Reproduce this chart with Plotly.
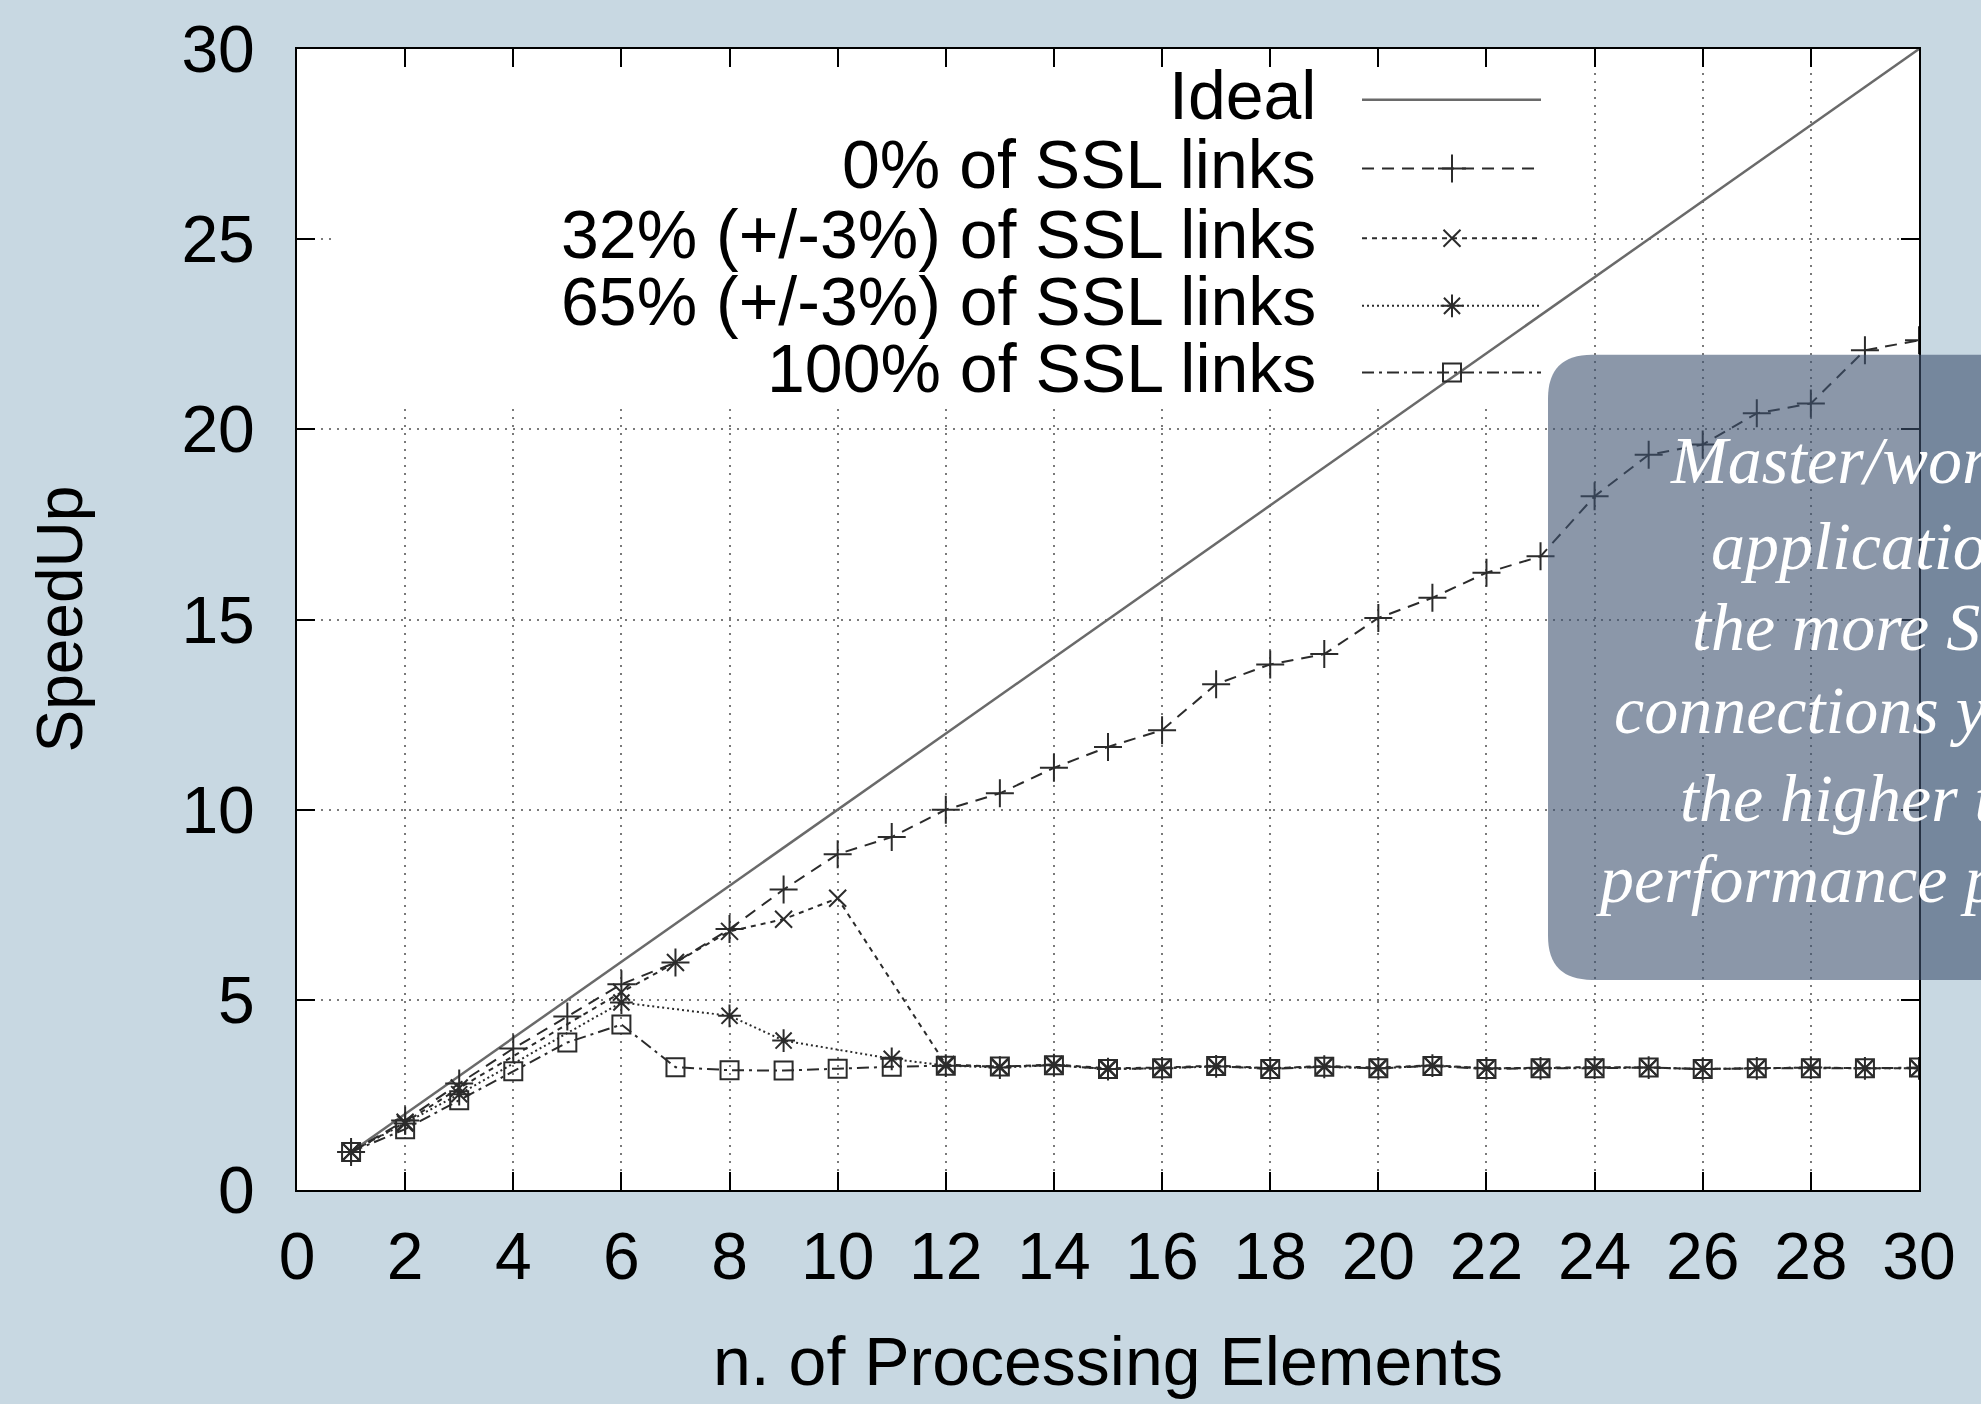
import plotly.graph_objects as go

# ---------------- data ----------------
n_pe = list(range(1, 31))
ideal = [1, 2, 3, 4, 5, 6, 7, 8, 9, 10, 11, 12, 13, 14, 15,
         16, 17, 18, 19, 20, 21, 22, 23, 24, 25, 26, 27, 28, 29, 30]
ssl0 = [1.0, 1.83, 2.8, 3.72, 4.56, 5.41, 5.98, 6.86, 7.9, 8.83,
        9.28, 10.0, 10.43, 11.1, 11.65, 12.09, 13.3, 13.82, 14.09, 15.04,
        15.57, 16.23, 16.66, 18.24, 19.33, 19.6, 20.42, 20.68, 22.08, 22.34]
ssl32_x = [1, 2, 3, 6, 7, 8, 9, 10, 12, 13, 14, 15, 16, 17, 18, 19, 20,
           21, 22, 23, 24, 25, 26, 27, 28, 29, 30]
ssl32 = [1.0, 1.78, 2.68, 5.2, 5.98, 6.8, 7.12, 7.67, 3.3, 3.24,
         3.3, 3.2, 3.22, 3.27, 3.2, 3.26, 3.22, 3.28, 3.2, 3.22,
         3.23, 3.22, 3.18, 3.2, 3.22, 3.2, 3.2]
ssl65_x = [1, 2, 3, 6, 8, 9, 11, 12, 13, 14, 15, 16, 17, 18, 19, 20,
           21, 22, 23, 24, 25, 26, 27, 28, 29, 30]
ssl65 = [1.0, 1.75, 2.52, 4.93, 4.58, 3.93, 3.45, 3.27, 3.22, 3.28,
         3.18, 3.2, 3.25, 3.2, 3.24, 3.2, 3.27, 3.2, 3.2, 3.22,
         3.22, 3.18, 3.2, 3.22, 3.2, 3.2]
ssl100 = [1.0, 1.6, 2.36, 3.12, 3.88, 4.35, 3.23, 3.15, 3.14, 3.19,
          3.24, 3.27, 3.25, 3.28, 3.18, 3.2, 3.26, 3.18, 3.24, 3.2,
          3.26, 3.18, 3.2, 3.2, 3.22, 3.18, 3.2, 3.2, 3.2, 3.22]

legend_labels = ["Ideal", "0% of SSL links", "32% (+/-3%) of SSL links",
                 "65% (+/-3%) of SSL links", "100% of SSL links"]
note_lines = ["Master/worker", "application:", "the more SSL",
              "connections you use,", "the higher the", "performance penalty"]

# ---------------- geometry helpers ----------------
W, H = 1981, 1404
L, R, T, B = 297, 1919, 44, 1190
X_MAX, Y_MAX = 30, 30


def px_x(p):
    return (p - L) / (R - L)


def px_y(p):
    return (B - p) / (B - T)


FONT = "Liberation Sans, Arial, sans-serif"
INK = "#2b2b2b"

styles = [
    dict(color="#6a6a6a", dash="solid", width=2.5, symbol=None, size=0),
    dict(color=INK, dash="12px,8px", width=2, symbol="cross-thin-open", size=20),
    dict(color=INK, dash="5px,5px", width=2, symbol="x-thin-open", size=17),
    dict(color=INK, dash="2px,3px", width=2, symbol="asterisk-open", size=19),
    dict(color=INK, dash="12px,5px,3px,5px", width=2, symbol="square-open", size=18),
]

fig = go.Figure()

series = [(n_pe, ideal), (n_pe, ssl0), (ssl32_x, ssl32), (ssl65_x, ssl65), (n_pe, ssl100)]
for (xs, ys), st, name in zip(series, styles, legend_labels):
    if st["symbol"] is None:
        fig.add_trace(go.Scatter(x=xs, y=ys, mode="lines", name=name, showlegend=False,
                                 line=dict(color=st["color"], width=st["width"], dash=st["dash"])))
    else:
        fig.add_trace(go.Scatter(x=xs, y=ys, mode="lines+markers", name=name, showlegend=False,
                                 line=dict(color=st["color"], width=st["width"], dash=st["dash"]),
                                 marker=dict(symbol=st["symbol"], size=st["size"], color=st["color"],
                                             line=dict(color=st["color"], width=2))))

# ---------------- gnuplot-style key ----------------
row_px = [95, 164, 234, 302, 369]
samp_x0, samp_x1, samp_xm = px_x(1362), px_x(1541), px_x(1452)
text_right = px_x(1318)

# opaque key box hides the grid (between grid and traces), axis-referenced
shapes = [dict(type="rect", xref="x", yref="y",
               x0=px_x(332) * X_MAX, x1=px_x(1544) * X_MAX,
               y0=px_y(402) * Y_MAX, y1=Y_MAX,
               fillcolor="white", line=dict(width=0), layer="between")]
annotations = []
for lab, st, rp in zip(legend_labels, styles, row_px):
    ry = px_y(rp)
    fig.add_trace(go.Scatter(x=[samp_x0, samp_x1], y=[ry, ry], mode="lines", showlegend=False,
                             xaxis="x2", yaxis="y2", hoverinfo="skip",
                             line=dict(color=st["color"], width=st["width"], dash=st["dash"])))
    if st["symbol"] is not None:
        fig.add_trace(go.Scatter(x=[samp_xm], y=[ry], mode="markers", showlegend=False,
                                 xaxis="x2", yaxis="y2", hoverinfo="skip",
                                 marker=dict(symbol=st["symbol"], size=st["size"], color=st["color"],
                                             line=dict(color=st["color"], width=2))))
    annotations.append(dict(xref="paper", yref="paper", x=text_right, y=ry + 0.004,
                            xanchor="right", yanchor="middle", text=lab, showarrow=False,
                            font=dict(family=FONT, size=68, color="black")))

# ---------------- callout box ----------------
bx0, bx1, by0, by1 = 1548, 2250, 351, 979
rad = 44
rx = rad / (R - L)
ry_ = rad / (B - T)
X0, X1, Y0, Y1 = px_x(bx0), px_x(bx1), px_y(by1), px_y(by0)
path = (f"M {X0 + rx},{Y1} L {X1},{Y1} L {X1},{Y0} L {X0 + rx},{Y0} "
        f"Q {X0},{Y0} {X0},{Y0 + ry_} L {X0},{Y1 - ry_} Q {X0},{Y1} {X0 + rx},{Y1} Z")
shapes.append(dict(type="path", xref="paper", yref="paper", path=path,
                   fillcolor="rgba(62,82,112,0.6)", line=dict(width=0), layer="above"))

note_start_px = [1668, 1709, 1690, 1612, 1678, 1594]
note_y_px = [457, 543, 625, 708, 796, 878]
for txt, sx, sy in zip(note_lines, note_start_px, note_y_px):
    annotations.append(dict(xref="paper", yref="paper", x=px_x(sx), y=px_y(sy),
                            xanchor="left", yanchor="middle", text=f"<i>{txt}</i>",
                            showarrow=False,
                            font=dict(family="Liberation Serif, Times New Roman, serif",
                                      size=68, color="white")))

# ---------------- axis titles ----------------
annotations.append(dict(xref="paper", yref="paper", x=px_x(1108), y=px_y(1362),
                        xanchor="center", yanchor="middle", text="n. of Processing Elements",
                        showarrow=False, font=dict(family=FONT, size=68, color="black")))
annotations.append(dict(xref="paper", yref="paper", x=px_x(59), y=px_y(617),
                        xanchor="center", yanchor="middle", text="SpeedUp", textangle=-90,
                        showarrow=False, font=dict(family=FONT, size=64, color="black")))

axis_common = dict(
    showline=True, linecolor="black", linewidth=2, mirror="ticks",
    ticks="inside", ticklen=18, tickwidth=2, tickcolor="black",
    showgrid=True, gridcolor="#7a7a7a", gridwidth=1.6, griddash="2px,6px",
    zeroline=False, tickfont=dict(family=FONT, size=66, color="black"),
)

fig.update_layout(
    width=W, height=H, autosize=False,
    margin=dict(l=L, r=W - R, t=T, b=H - B, pad=0),
    paper_bgcolor="#c8d8e2", plot_bgcolor="white",
    xaxis=dict(range=[0, X_MAX], tick0=0, dtick=2, ticklabelstandoff=8, **axis_common),
    yaxis=dict(range=[0, Y_MAX], tick0=0, dtick=5, ticklabelstandoff=27, **axis_common),
    xaxis2=dict(overlaying="x", anchor="y2", range=[0, 1], visible=False, fixedrange=True),
    yaxis2=dict(overlaying="y", anchor="x2", range=[0, 1], visible=False, fixedrange=True),
    shapes=shapes, annotations=annotations, showlegend=False,
)

fig.write_html("out.html")
